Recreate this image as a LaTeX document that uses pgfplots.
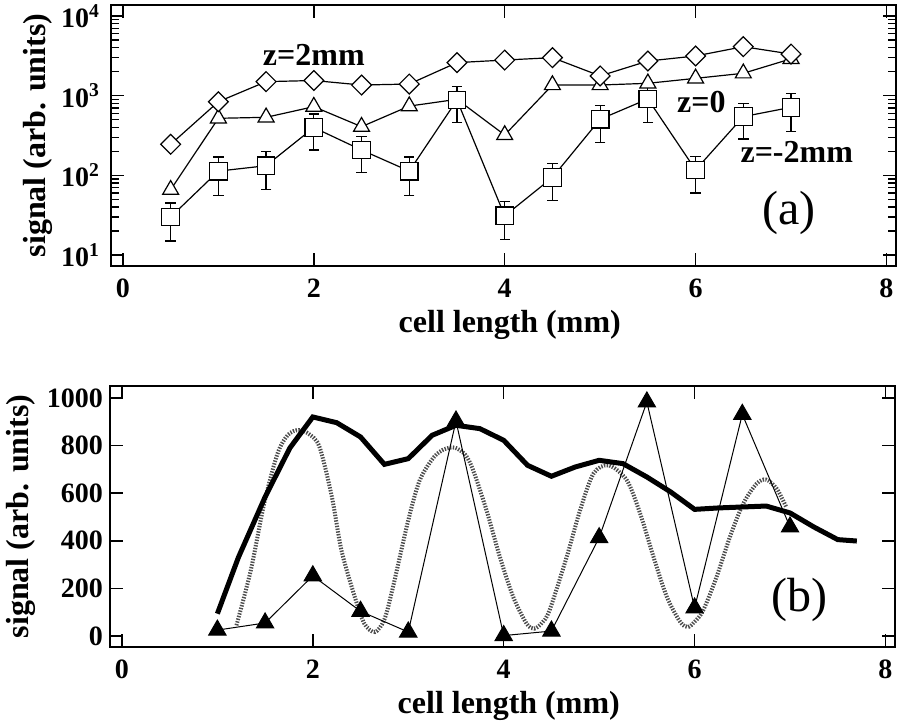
\documentclass[border=0pt]{standalone}
\usepackage{fontspec}
\setmainfont{Liberation Serif}
\usepackage{pgfplots}
\pgfplotsset{compat=1.18}
\begin{document}
\begin{tikzpicture}
\useasboundingbox (0pt,0pt) rectangle (449pt,362.5pt);
\pgfplotsset{
 common/.style={
  scale only axis, width=392.5pt, height=130.5pt, anchor=south west,
  xmin=-0.125, xmax=8.1, xtick={0,2,4,6,8},
  tick align=inside, major tick length=6.5pt, minor tick length=4pt,
  axis line style={line width=0.9pt},
  every tick/.style={line width=0.7pt, black},
  tick label style={font=\fontsize{14}{14}\selectfont\bfseries},
  /pgf/number format/assume math mode=true,
  /pgf/number format/1000 sep={},
  label style={font=\fontsize{16}{16}\selectfont\bfseries},
  xlabel={cell length (mm)},
  ylabel={signal (arb. units)},
  xticklabel style={yshift=-3pt},
  clip=false,
 }
}
% ---------- panel (a)
\begin{axis}[common, at={(55.5pt,229.5pt)},
  ymode=log, ymin=7.28, ymax=13740,
  ytick={10,100,1000,10000},
  minor ytick={20,30,40,50,60,70,80,90,200,300,400,500,600,700,800,900,2000,3000,4000,5000,6000,7000,8000,9000},
  yticklabels={\textbf{10}\textsuperscript{\textbf{1}},\textbf{10}\textsuperscript{\textbf{2}},\textbf{10}\textsuperscript{\textbf{3}},\textbf{10}\textsuperscript{\textbf{4}}},
  yticklabel style={xshift=-2pt},
  xlabel style={at={(axis description cs:0.508,-0.226)},anchor=center},
  ylabel style={at={(axis description cs:-0.093,0.5)},anchor=center}]
% z=0 (open triangles)
\addplot[black, line width=0.6pt, mark=triangle*, mark size=4.6pt,
  mark options={fill=white, draw=black}] coordinates {
(0.5,66) (1,520) (1.5,535) (2,728) (2.5,408) (3,740) (3.5,900) (4,321)
(4.5,1360) (5,1360) (5.5,1430) (6,1650) (6.5,1910) (7,2900)};
% z=-2mm (open squares with error bars)
\addplot[black, line width=0.6pt, mark=square*, mark size=4.4pt,
  mark options={fill=white, draw=black},
  error bars/.cd, y dir=both, y explicit,
  error bar style={line width=0.6pt},
  error mark options={rotate=90, mark size=2.6pt, line width=0.6pt, black}] coordinates {
(0.5,30) +- (0,15)
(1,113) +- (0,57)
(1.5,132) +- (0,66)
(2,398) +- (0,190)
(2.5,208) +- (0,100)
(3,113) +- (0,57)
(3.5,883) +- (0,420)
(4,31) +- (0,15.5)
(4.5,94) +- (0,46)
(5,506) +- (0,250)
(5.5,910) +- (0,450)
(6,117) +- (0,57)
(6.5,546) +- (0,260)
(7,714) +- (0,360)};
% z=2mm (open diamonds)
\addplot[black, line width=0.6pt, mark=square*, mark size=3.5pt,
  mark options={fill=white, draw=black, rotate=45}] coordinates {
(0.5,245) (1,840) (1.5,1500) (2,1550) (2.5,1360) (3,1400) (3.5,2600)
(4,2800) (4.5,3000) (5,1770) (5.5,2720) (6,3150) (6.5,4120) (7,3330)};
\node[font=\fontsize{16}{16}\selectfont\bfseries] at (axis cs:2,3240) {z=2mm};
\node[font=\fontsize{16}{16}\selectfont\bfseries] at (axis cs:6.06,834) {z=0};
\node[font=\fontsize{16}{16}\selectfont\bfseries] at (axis cs:7.06,197) {z=-2mm};
\node[font=\fontsize{24}{24}\selectfont] at (axis cs:6.98,33.7) {(a)};
\end{axis}
% ---------- panel (b)
\begin{axis}[common, at={(55pt,39pt)},
  ymin=-46, ymax=1050, ytick={0,200,400,600,800,1000},
  xlabel style={at={(axis description cs:0.508,-0.226)},anchor=center},
  ylabel style={at={(axis description cs:-0.113,0.5)},anchor=center}]
% dotted oscillating curve
\addplot[black!70, line width=2pt, dash pattern=on 0.7pt off 0.7pt, smooth] coordinates {
(1.2,45) (1.35,276) (1.49,556) (1.63,766) (1.74,845) (1.85,865) (1.96,848)
(2.07,794) (2.2,584) (2.3,360) (2.44,164) (2.54,52) (2.65,17) (2.75,70)
(2.84,206) (3.0,486) (3.12,654) (3.27,752) (3.38,785) (3.49,791) (3.6,760)
(3.68,696) (3.82,528) (3.96,332) (4.1,164) (4.24,52) (4.32,31) (4.4,55)
(4.48,108) (4.66,332) (4.8,528) (4.94,682) (5.1,717) (5.29,654) (5.43,514)
(5.57,332) (5.71,164) (5.85,59) (5.93,38) (6.0,60) (6.09,108) (6.23,248)
(6.37,416) (6.51,556) (6.65,640) (6.75,657) (6.86,619) (6.96,542)};
% thick solid curve
\addplot[black, line width=2.5pt] coordinates {
(1.0,94) (1.22,330) (1.5,584) (1.76,790) (2.0,920) (2.25,896) (2.5,836)
(2.75,721) (3.0,745) (3.25,843) (3.5,885) (3.75,871) (4.0,822) (4.25,717)
(4.5,671) (4.75,710) (5.0,738) (5.25,724) (5.5,668) (5.75,605) (6.0,532)
(6.25,538) (6.5,542) (6.75,546) (7.0,517) (7.25,458) (7.5,405) (7.7,399)};
% filled triangles
\addplot[black, line width=0.5pt, mark=triangle*, mark size=5pt,
  mark options={fill=black}] coordinates {
(1,25) (1.5,55) (2,253) (2.5,104) (3,17) (3.5,903) (4,2) (4.5,21)
(5,413) (5.5,983) (6,118) (6.5,931) (7,458)};
\node[font=\fontsize{24}{24}\selectfont] at (axis cs:7.1,151) {(b)};
\end{axis}
\end{tikzpicture}
\end{document}
